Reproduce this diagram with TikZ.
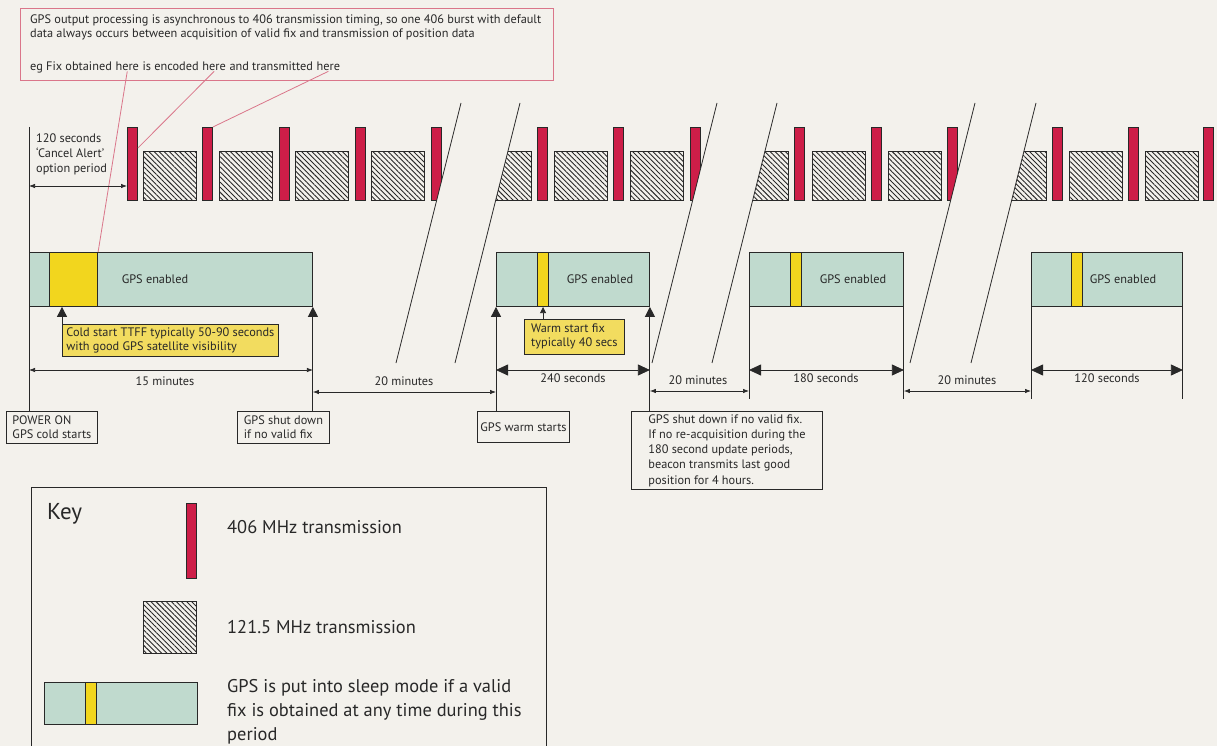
\documentclass[tikz,border=0pt]{standalone}
\usepackage{fontspec}
\setmainfont{PT Sans}
\usetikzlibrary{patterns.meta,arrows.meta}
\definecolor{bg}{RGB}{243,241,236}
\definecolor{ink}{RGB}{40,40,40}
\definecolor{txred}{RGB}{205,30,72}
\definecolor{gpsf}{RGB}{192,218,206}
\definecolor{fixy}{RGB}{242,214,30}
\definecolor{cally}{RGB}{242,220,95}
\definecolor{pinkl}{RGB}{218,118,138}
\tikzset{
  txbar/.style={rectangle, anchor=north west, inner sep=0, draw=ink, line width=0.9pt, fill=txred, minimum width=10, minimum height=73},
  hatchbox/.style={rectangle, anchor=north west, inner sep=0, draw=ink, line width=0.9pt, pattern={Lines[angle=-45,distance=3.6pt,line width=0.9pt]}, pattern color=ink, minimum width=53, minimum height=49},
  gps/.style={rectangle, anchor=north west, inner sep=0, draw=ink, line width=0.9pt, fill=gpsf, minimum height=54},
  fix/.style={rectangle, anchor=north west, inner sep=0, draw=ink, line width=1.1pt, fill=fixy, minimum height=54},
  callout/.style={rectangle, anchor=north west, draw=ink, line width=0.8pt, fill=cally, align=left, inner xsep=4pt, inner ysep=3pt},
  lbox/.style={rectangle, anchor=north west, draw=ink, line width=0.9pt, align=left, inner xsep=3pt, inner ysep=3pt},
  vline/.style={draw=ink, line width=0.9pt},
  slash/.style={draw=ink, line width=0.8pt},
  leader/.style={draw=pinkl, line width=0.8pt},
  dimS/.style={draw=ink, line width=0.7pt, {Latex[length=6pt,width=4.5pt]}-{Latex[length=6pt,width=4.5pt]}},
  dimL/.style={draw=ink, line width=0.8pt, {Triangle[length=12pt,width=11pt]}-{Triangle[length=12pt,width=11pt]}},
  upA/.style={draw=ink, line width=0.9pt, -{Triangle[length=10pt,width=10pt]}},
  upS/.style={draw=ink, line width=0.8pt, -{Triangle[length=6pt,width=6pt]}},
  keyfont/.style={font=\fontsize{18.4}{24}\selectfont},
  seg/.style={anchor=base west, inner sep=0}
}
\begin{document}
\begin{tikzpicture}[x=1pt,y=-1pt,font=\fontsize{12.3}{14}\selectfont, text=ink]
\fill[bg] (0,0) rectangle (1217,746);
\useasboundingbox (0,0) rectangle (1217,746);

% note box
\node[rectangle, anchor=north west, draw=pinkl, line width=0.9pt, minimum width=533, minimum height=72, inner sep=0] (note) at (20,8) {};
\node[seg] (n1) at (30,24) {GPS output processing is asynchronous to 406 transmission timing, so one 406 burst with default};
\node[seg] (n2) at (30,38) {data always occurs between acquisition of valid fix and transmission of position data};
\node[seg] (e1) at (30,71) {eg Fix obtained\ \hbox{}};
\node[seg] (h1) at (e1.base east) {here};
\node[seg] (e2) at (h1.base east) {\ is encoded\ \hbox{}};
\node[seg] (h2) at (e2.base east) {here};
\node[seg] (e3) at (h2.base east) {\ and transmitted\ \hbox{}};
\node[seg] (h3) at (e3.base east) {here};

% group 1
\begin{scope}
\clip (0,0) -- (486.75,0) -- (386.75,400) -- (0,400) -- cycle;
\foreach \x [count=\i] in {127,202,279,355,431} \node[txbar] (r1\i) at (\x,127) {};
\foreach \x in {143,219,295,371} \node[hatchbox] at (\x,151) {};
\end{scope}
% group 2
\begin{scope}
\clip (545.75,0) -- (742.75,0) -- (642.75,400) -- (445.75,400) -- cycle;
\foreach \x in {537,613,690} \node[txbar] at (\x,127) {};
\foreach \x in {478,554,630} \node[hatchbox] at (\x,151) {};
\end{scope}
% group 3
\begin{scope}
\clip (802.75,0) -- (1000.75,0) -- (900.75,400) -- (702.75,400) -- cycle;
\foreach \x in {794,871,947} \node[txbar] at (\x,127) {};
\foreach \x in {735,812,888} \node[hatchbox] at (\x,151) {};
\end{scope}
% group 4
\begin{scope}
\clip (1061.75,0) -- (1217,0) -- (1217,400) -- (961.75,400) -- cycle;
\foreach \x in {1052,1128,1203} \node[txbar] at (\x,127) {};
\foreach \x in {993,1069,1145} \node[hatchbox] at (\x,151) {};
\end{scope}
% break slashes
\foreach \t in {461,520,717,777,975,1036} \draw[slash] (\t,103) -- (\t-65,363);

% GPS enabled boxes
\node[gps, minimum width=283] (g1) at (29,252) {};
\node[fix, minimum width=48] (y1) at (49,252) {};
\node at (155,279) {GPS enabled};
\node[gps, minimum width=153] (g2) at (496,252) {};
\node[fix, minimum width=11] (y2) at (537,252) {};
\node at (600,279) {GPS enabled};
\node[gps, minimum width=154] (g3) at (749,252) {};
\node[fix, minimum width=11] (y3) at (790,252) {};
\node at (853,279) {GPS enabled};
\node[gps, minimum width=151] (g4) at (1031,252) {};
\node[fix, minimum width=11] (y4) at (1071,252) {};
\node at (1123,279) {GPS enabled};

% leaders
\draw[leader] (h1.south) -- (y1.north east);
\draw[leader] (h2.south) -- ([yshift=-21pt]r11.north east);
\draw[leader] (h3.south) -- (r12.north east);

% callouts
\node[callout, minimum width=216, minimum height=32] (c1) at (62,324) {Cold start TTFF typically 50-90 seconds\\with good GPS satellite visibility};
\node[callout, minimum width=100, minimum height=35] (c2) at (524,319) {Warm start fix\\typically 40 secs};
\draw[upA] (c1.north west) -- (c1.north west |- g1.south);
\draw[upS] (c2.north -| y2.south) -- (y2.south);

% label boxes
\node[lbox, minimum width=91, minimum height=32] (pon) at (6,411) {POWER ON\\GPS cold starts};
\node[lbox, minimum width=92, minimum height=32] (sd1) at (237,411) {GPS shut down\\if no valid fix};
\node[lbox, minimum width=90, minimum height=31] (ws) at (477,411) {GPS warm starts};
\node[lbox, minimum width=191, inner xsep=5pt, font=\fontsize{12.3}{15.2}\selectfont] (sd2) at (631,411) {GPS shut down if no valid fix.\\If no re-acquisition during the\\180 second update periods,\\beacon transmits last good\\position for 4 hours.};

% verticals
\coordinate (L) at (29,127);
\draw[vline] (L) -- (L |- pon.north);
\draw[upA] (sd1.north -| g1.south east) -- (g1.south east);
\draw[upA] (ws.north -| g2.south west) -- (g2.south west);
\draw[upA] (sd2.north -| g2.south east) -- (g2.south east);
\draw[vline] (g3.south west) -- (g3.south west |- 0,399);
\draw[vline] (g3.south east) -- (g3.south east |- 0,399);
\draw[vline] (g4.south west) -- (g4.south west |- 0,399);
\draw[vline] (g4.south east) -- (g4.south east |- 0,399);

% cancel alert
\node[anchor=north west, align=left, inner sep=0, font=\fontsize{12.3}{15}\selectfont] (cancel) at (36,134) {120 seconds\\`Cancel Alert'\\option period};
\draw[dimS] (L |- 0,186) -- (r11.west |- 0,186);

% dimensions
\draw[dimS] (L |- 0,370) -- (g1.south east |- 0,370);
\node (m15) at (165,381) {15 minutes};
\draw[dimS] (g1.south east |- 0,392) -- (g2.south west |- 0,392);
\node (m20a) at (404,381) {20 minutes};
\draw[dimL] (g2.south west |- 0,370) -- (g2.south east |- 0,370);
\node (s240) at (573,378) {240 seconds};
\draw[dimS] (g2.south east |- 0,391) -- (g3.south west |- 0,391);
\node (m20b) at (698,380) {20 minutes};
\draw[dimL] (g3.south west |- 0,370) -- (g3.south east |- 0,370);
\node (s180) at (826,378) {180 seconds};
\draw[dimS] (g3.south east |- 0,391) -- (g4.south west |- 0,391);
\node (m20c) at (967,380) {20 minutes};
\draw[dimL] (g4.south west |- 0,370) -- (g4.south east |- 0,370);
\node (s120) at (1107,378) {120 seconds};

% key
\draw[ink, line width=0.9pt] (31,750) -- (31,487) -- (546,487) -- (546,750);
\node[anchor=west, inner sep=0, font=\fontsize{23}{26}\selectfont] (key) at (47,514) {Key};
\node[txbar, minimum height=75] (kr) at (186,503) {};
\node[anchor=west, inner sep=0, keyfont] (k1) at (227,527) {406 MHz transmission};
\node[hatchbox, minimum height=52] (kh) at (143,601) {};
\node[anchor=west, inner sep=0, keyfont] (k2) at (227,627) {121.5 MHz transmission};
\node[gps, minimum width=153, minimum height=42] (kg) at (44,682) {};
\node[fix, minimum width=11, minimum height=42] (ky) at (85,682) {};
\node[anchor=north west, align=left, inner sep=0, keyfont] (k3) at (227,679) {GPS is put into sleep mode if a valid\\fix is obtained at any time during this\\period};
\end{tikzpicture}
\end{document}
